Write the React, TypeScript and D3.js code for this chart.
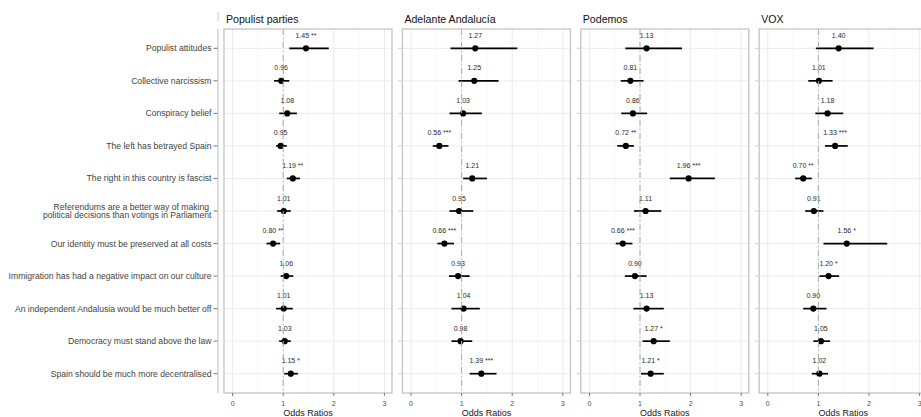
import React from "react";
import * as d3 from "d3";

const categories = [
  "Populist attitudes",
  "Collective narcissism",
  "Conspiracy belief",
  "The left has betrayed Spain",
  "The right in this country is fascist",
  "Referendums are a better way of making \npolitical decisions than votings in Parliament",
  "Our identity must be preserved at all costs",
  "Immigration has had a negative impact on our culture",
  "An independent Andalusia would be much better off",
  "Democracy must stand above the law",
  "Spain should be much more decentralised",
];

const parties = ["Populist parties", "Adelante Andalucía", "Podemos", "VOX"];

const populistEst = [1.45, 0.96, 1.08, 0.95, 1.19, 1.01, 0.8, 1.06, 1.01, 1.03, 1.15];
const populistLo = [1.12, 0.82, 0.92, 0.86, 1.07, 0.88, 0.67, 0.95, 0.86, 0.92, 1.02];
const populistHi = [1.9, 1.12, 1.27, 1.07, 1.33, 1.15, 0.94, 1.2, 1.19, 1.15, 1.29];
const populistStars = ["**", "", "", "", "**", "", "**", "", "", "", "*"];

const adelanteEst = [1.27, 1.25, 1.03, 0.56, 1.21, 0.95, 0.66, 0.93, 1.04, 0.98, 1.39];
const adelanteLo = [0.78, 0.94, 0.76, 0.43, 1.03, 0.76, 0.52, 0.75, 0.8, 0.8, 1.16];
const adelanteHi = [2.1, 1.73, 1.4, 0.74, 1.5, 1.23, 0.85, 1.16, 1.36, 1.21, 1.69];
const adelanteStars = ["", "", "", "***", "", "", "***", "", "", "", "***"];

const podemosEst = [1.13, 0.81, 0.86, 0.72, 1.96, 1.11, 0.66, 0.9, 1.13, 1.27, 1.21];
const podemosLo = [0.71, 0.62, 0.63, 0.55, 1.59, 0.88, 0.52, 0.7, 0.87, 1.05, 1.02];
const podemosHi = [1.83, 1.07, 1.14, 0.88, 2.48, 1.42, 0.85, 1.13, 1.47, 1.59, 1.47];
const podemosStars = ["", "", "", "**", "***", "", "***", "", "", "*", "*"];

const voxEst = [1.4, 1.01, 1.18, 1.33, 0.7, 0.91, 1.56, 1.2, 0.9, 1.05, 1.02];
const voxLo = [0.95, 0.8, 0.94, 1.13, 0.54, 0.74, 1.1, 1.02, 0.7, 0.9, 0.87];
const voxHi = [2.09, 1.28, 1.49, 1.58, 0.87, 1.1, 2.36, 1.41, 1.16, 1.23, 1.19];
const voxStars = ["", "", "", "***", "**", "", "*", "*", "", "", ""];

const xTicks = [0, 1, 2, 3];
const xMinor = [0.5, 1.5, 2.5];
const axisTitle = "Odds Ratios";

const series = [
  { est: populistEst, lo: populistLo, hi: populistHi, stars: populistStars },
  { est: adelanteEst, lo: adelanteLo, hi: adelanteHi, stars: adelanteStars },
  { est: podemosEst, lo: podemosLo, hi: podemosHi, stars: podemosStars },
  { est: voxEst, lo: voxLo, hi: voxHi, stars: voxStars },
];

const W = 921;
const H = 417;
const panelTop = 29;
const panelBottom = 393;
const panelW = 168;
const firstLeft = 224;
const panelStep = 178.4;
const font = "'Liberation Sans', Arial, Helvetica, sans-serif";

export default function App() {
  const y = d3
    .scalePoint<number>()
    .domain(d3.range(categories.length))
    .range([panelTop, panelBottom])
    .padding(0.593);

  return (
    <svg
      width={W}
      height={H}
      style={{ position: "fixed", left: 0, top: 0, background: "#fff" }}
      fontFamily={font}
    >
      <rect x={0} y={0} width={W} height={H} fill="#fff" />
      {/* left axis */}
      <line x1={218} x2={218} y1={12} y2={21} stroke="#c8c8c8" strokeWidth={1} />
      <line x1={218} x2={218} y1={panelTop} y2={panelBottom} stroke="#c8c8c8" strokeWidth={1.2} />
      {categories.map((c, i) => {
        const lines = c.split("\n");
        const yy = y(i)!;
        return (
          <g key={"yl" + i}>
            <line x1={213.5} x2={217.5} y1={yy} y2={yy} stroke="#555" strokeWidth={0.8} />
            <text
              x={211.5}
              y={yy - ((lines.length - 1) * 8.3) / 2}
              textAnchor="end"
              fontSize={8.62}
              fill="#444"
              dominantBaseline="central"
            >
              {lines.map((l, k) => (
                <tspan key={k} x={211.5} dy={k === 0 ? 0 : 8.3}>
                  {l}
                </tspan>
              ))}
            </text>
          </g>
        );
      })}
      {series.map((s, p) => {
        const left = firstLeft + p * panelStep;
        const x = d3.scaleLinear().domain([-0.17, 3.15]).range([left, left + panelW]);
        const cx = left + panelW / 2;
        return (
          <g key={"p" + p}>
            <text x={left + 2} y={19} fontSize={10.6} fill="#111" dominantBaseline="central">
              {parties[p]}
            </text>
            <rect x={left} y={panelTop} width={panelW} height={panelBottom - panelTop} fill="#fff" />
            {xMinor.map((t) => (
              <line key={"mi" + t} x1={x(t)} x2={x(t)} y1={panelTop} y2={panelBottom} stroke="#f0f0f0" strokeWidth={0.6} />
            ))}
            {xTicks.map((t) => (
              <line key={"ma" + t} x1={x(t)} x2={x(t)} y1={panelTop} y2={panelBottom} stroke="#ebebeb" strokeWidth={1} />
            ))}
            {categories.map((_, i) => (
              <line key={"hg" + i} x1={left} x2={left + panelW} y1={y(i)!} y2={y(i)!} stroke="#ebebeb" strokeWidth={1} />
            ))}
            {p > 0 &&
              categories.map((_, i) => (
                <line key={"yt" + i} x1={left - 4} x2={left - 1} y1={y(i)!} y2={y(i)!} stroke="#bbb" strokeWidth={0.8} />
              ))}
            {s.est.map((v, i) => (
              <text
                key={"lab" + i}
                x={x(v)}
                y={y(i)! - 13}
                textAnchor="middle"
                fontSize={7}
                fill="#2a2a2a"
                dominantBaseline="central"
              >
                {v.toFixed(2) + (s.stars[i] ? " " + s.stars[i] : "")}
              </text>
            ))}
            {s.est.map((v, i) => (
              <g key={"pt" + i}>
                <line x1={x(s.lo[i])} x2={x(s.hi[i])} y1={y(i)!} y2={y(i)!} stroke="#000" strokeWidth={1.7} />
                <circle cx={x(v)} cy={y(i)!} r={3.1} fill="#000" />
              </g>
            ))}
            <line
              x1={x(1)}
              x2={x(1)}
              y1={panelTop}
              y2={panelBottom}
              stroke="#aaa"
              strokeWidth={1}
              strokeDasharray="6,3,1,3"
            />
            <rect
              x={left}
              y={panelTop}
              width={panelW}
              height={panelBottom - panelTop}
              fill="none"
              stroke="#c4c4c4"
              strokeWidth={1.3}
            />
            {xTicks.map((t) => (
              <g key={"xt" + t}>
                <line x1={x(t)} x2={x(t)} y1={panelBottom} y2={panelBottom + 3} stroke="#555" strokeWidth={0.8} />
                <text x={x(t)} y={403} textAnchor="middle" fontSize={7} fill="#4d4d4d" dominantBaseline="central">
                  {t}
                </text>
              </g>
            ))}
            <text x={cx} y={415.5} textAnchor="middle" fontSize={9} fill="#1a1a1a">
              {axisTitle}
            </text>
          </g>
        );
      })}
    </svg>
  );
}
